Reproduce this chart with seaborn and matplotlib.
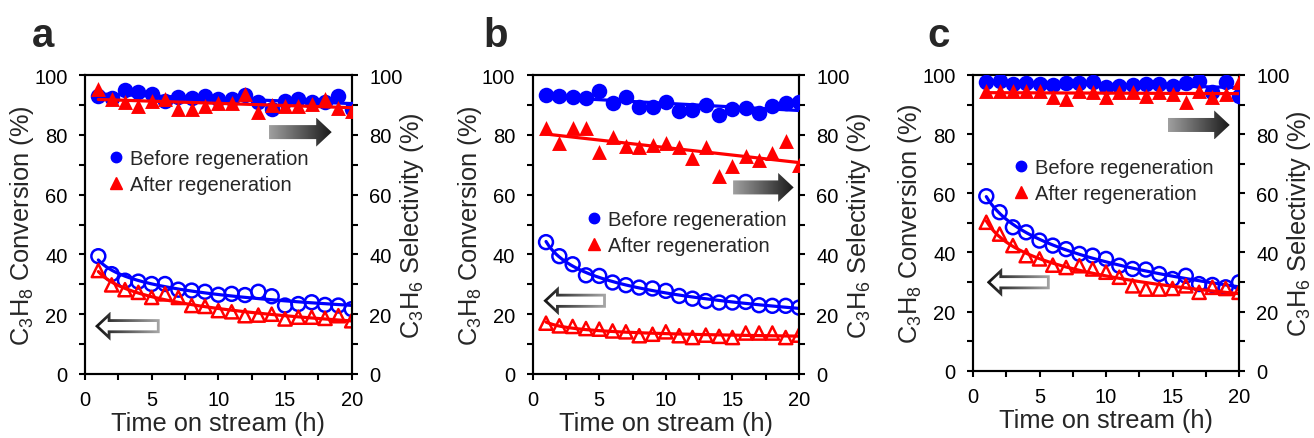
import numpy as np
import pandas as pd
import matplotlib
matplotlib.use("Agg")
import matplotlib.pyplot as plt
import seaborn as sns
from matplotlib.patches import Polygon
from matplotlib.lines import Line2D
from matplotlib.colors import LinearSegmentedColormap
from matplotlib.ticker import MultipleLocator

# ---------------- data ----------------
time_h = list(range(1, 21))

a_conv_before = [39.4, 33.4, 31.2, 30.9, 30.1, 30.1, 28.2, 27.9, 27.5, 26.5, 26.8, 26.4, 27.5, 26.0, 22.9, 23.4, 24.0, 23.1, 22.9, 21.7]
a_conv_after = [34.6, 29.8, 28.2, 27.3, 25.6, 26.8, 25.6, 22.9, 22.6, 21.2, 20.8, 19.5, 19.7, 20.0, 18.4, 19.0, 19.0, 18.6, 19.5, 17.8]
a_sel_before = [93.1, 92.2, 95.0, 94.2, 93.6, 91.4, 92.8, 92.2, 92.9, 92.0, 92.0, 93.4, 90.9, 88.6, 91.4, 92.0, 90.9, 90.9, 93.1, 88.6]
a_sel_after = [95.3, 92.0, 90.9, 89.7, 91.4, 92.0, 88.6, 88.6, 89.7, 90.6, 90.6, 93.6, 87.5, 89.9, 89.7, 89.7, 90.3, 92.0, 88.8, 88.0]

b_conv_before = [44.1, 39.4, 36.7, 33.0, 32.8, 30.6, 29.7, 28.9, 28.6, 27.8, 26.1, 25.2, 24.4, 23.9, 23.9, 24.1, 23.0, 22.8, 22.8, 22.2]
b_conv_after = [17.0, 16.1, 15.9, 15.2, 15.0, 14.4, 14.1, 12.8, 13.3, 14.1, 12.8, 12.2, 13.0, 12.6, 12.2, 13.7, 13.7, 13.7, 12.2, 13.0]
b_sel_before = [93.3, 93.0, 92.8, 92.2, 94.8, 90.8, 92.8, 89.2, 89.2, 91.1, 87.8, 88.3, 90.0, 86.7, 88.6, 88.9, 87.2, 89.7, 90.8, 91.1]
b_sel_after = [82.2, 77.2, 82.2, 82.2, 74.1, 79.2, 76.3, 75.9, 76.7, 77.4, 75.9, 72.2, 75.9, 66.3, 69.7, 72.8, 71.7, 73.9, 77.8, 70.0]

c_conv_before = [59.0, 53.6, 48.5, 46.8, 44.0, 42.3, 41.1, 39.5, 38.9, 37.8, 35.5, 34.4, 34.2, 32.7, 31.0, 32.1, 29.3, 29.0, 28.2, 29.9]
c_conv_after = [50.2, 46.2, 42.3, 38.9, 37.8, 35.7, 34.9, 35.5, 34.4, 33.3, 31.6, 28.7, 27.6, 27.6, 27.8, 28.7, 26.5, 28.2, 27.8, 26.5]
c_sel_before = [97.5, 98.1, 97.0, 97.3, 97.0, 96.6, 97.3, 97.3, 97.7, 95.8, 96.2, 96.6, 97.0, 97.0, 96.2, 97.3, 98.1, 94.1, 97.7, 92.8]
c_sel_after = [94.7, 94.7, 94.7, 94.7, 94.7, 92.4, 91.9, 94.7, 94.1, 92.4, 94.4, 94.1, 93.0, 94.1, 93.6, 90.8, 94.7, 92.4, 93.6, 97.5]

panel_letters = ["a", "b", "c"]
legend_labels = ["Before regeneration", "After regeneration"]
x_label = "Time on stream (h)"
y_left_label = r"C$_3$H$_8$ Conversion (%)"
y_right_label = r"C$_3$H$_6$ Selectivity (%)"

BLUE = "#0000FF"
RED = "#FF0000"

# ---------------- style ----------------
sns.set_theme(style="ticks")
plt.rcParams["font.family"] = ["Liberation Sans", "DejaVu Sans"]
plt.rcParams["mathtext.fontset"] = "custom"
plt.rcParams["mathtext.rm"] = "Liberation Sans"
plt.rcParams["mathtext.it"] = "Liberation Sans:italic"
plt.rcParams["mathtext.bf"] = "Liberation Sans:bold"
plt.rcParams["axes.linewidth"] = 1.5

fig = plt.figure(figsize=(13.14, 4.39), dpi=100)
W, H = 1314.0, 439.0

panels = [
    dict(letter="a", left=85.0, right=351.7, top=76.0, bottom=375.0,
         conv=(a_conv_before, a_conv_after), sel=(a_sel_before, a_sel_after),
         leg=(0.094, 0.752),
         rarrow=(13.8, 18.5, 80.9), larrow=(5.6, 0.75, 16.0),
         letter_x=31.7),
    dict(letter="b", left=532.7, right=799.0, top=76.0, bottom=375.0,
         conv=(b_conv_before, b_conv_after), sel=(b_sel_before, b_sel_after),
         leg=(0.209, 0.548),
         rarrow=(15.05, 19.6, 62.4), larrow=(5.5, 0.8, 24.5),
         letter_x=483.3),
    dict(letter="c", left=973.0, right=1239.0, top=76.0, bottom=371.7,
         conv=(c_conv_before, c_conv_after), sel=(c_sel_before, c_sel_after),
         leg=(0.158, 0.720),
         rarrow=(14.66, 19.3, 83.1), larrow=(5.77, 1.03, 29.9),
         letter_x=927.3),
]


def fit_line(t, y, kind):
    t = np.asarray(t, float)
    y = np.asarray(y, float)
    tt = np.linspace(t.min(), t.max(), 200)
    if kind == "lin":
        p = np.polyfit(t, y, 1)
        return tt, np.polyval(p, tt)
    p = np.polyfit(np.log(t), y, 2)
    return tt, np.polyval(p, np.log(tt))


def gradient_arrow(ax, tail, tip, yc, sx, sy, colors, hollow=False):
    # dimensions in pixels, converted to data units with sx (px/unit x), sy (px/unit y)
    hl, hh, bh = 15.5, 14.5, 7.0
    d = 1.0 if tip > tail else -1.0
    base = tip - d * hl / sx

    def verts(tl, bs, tp, hh_, bh_):
        return [(tl, yc - bh_), (bs, yc - bh_), (bs, yc - hh_), (tp, yc),
                (bs, yc + hh_), (bs, yc + bh_), (tl, yc + bh_)]

    outer = Polygon(verts(tail, base, tip, hh / sy, bh / sy), closed=True,
                    fc="none", ec="none", transform=ax.transData)
    ax.add_patch(outer)
    grad = np.linspace(0, 1, 256).reshape(1, -1)
    cmap = LinearSegmentedColormap.from_list("g", colors)
    x0, x1 = min(tail, tip), max(tail, tip)
    im = ax.imshow(grad, extent=[x0, x1, yc - hh / sy, yc + hh / sy], cmap=cmap,
                   aspect="auto", origin="lower", zorder=1, interpolation="bilinear")
    im.set_clip_path(outer)
    if hollow:
        t = 2.8
        tip_shift = 4.0
        tl_i = tail + d * t / sx
        bs_i = base + d * t / sx
        tp_i = tip - d * tip_shift / sx
        dist = hl - t - tip_shift
        hh_i = dist * hh / hl
        inner = Polygon(verts(tl_i, bs_i, tp_i, hh_i / sy, (bh - t) / sy), closed=True,
                        fc="white", ec="none", transform=ax.transData, zorder=1.5)
        ax.add_patch(inner)


for P in panels:
    axw = P["right"] - P["left"]
    axh = P["bottom"] - P["top"]
    ax = fig.add_axes([P["left"] / W, 1 - P["bottom"] / H, axw / W, axh / H])
    ax2 = ax.twinx()
    sx = axw / 20.0
    sy = axh / 100.0

    cb, ca = P["conv"]
    sb, sa = P["sel"]

    # conversion (open markers, left axis)
    sns.scatterplot(x=time_h, y=cb, ax=ax, marker="o", s=100, facecolor="none",
                    edgecolor=BLUE, linewidth=1.8, zorder=3)
    tt, ff = fit_line(time_h, cb, "log")
    sns.lineplot(x=tt, y=ff, ax=ax, color=BLUE, lw=2.3, zorder=4)
    sns.scatterplot(x=time_h, y=ca, ax=ax, marker="^", s=90, facecolor="none",
                    edgecolor=RED, linewidth=1.8, zorder=5)
    tt, ff = fit_line(time_h, ca, "log")
    sns.lineplot(x=tt, y=ff, ax=ax, color=RED, lw=2.3, zorder=6)

    # selectivity (filled markers, right axis)
    sns.scatterplot(x=time_h, y=sb, ax=ax2, marker="o", s=125, color=BLUE,
                    edgecolor=BLUE, linewidth=0, zorder=3)
    tt, ff = fit_line(time_h, sb, "lin")
    sns.lineplot(x=tt, y=ff, ax=ax2, color=BLUE, lw=2.3, zorder=4)
    sns.scatterplot(x=time_h, y=sa, ax=ax2, marker="^", s=115, color=RED,
                    edgecolor=RED, linewidth=0, zorder=5)
    tt, ff = fit_line(time_h, sa, "lin")
    sns.lineplot(x=tt, y=ff, ax=ax2, color=RED, lw=2.3, zorder=6)

    # arrows
    r_tail, r_tip, r_y = P["rarrow"]
    gradient_arrow(ax2, r_tail, r_tip, r_y, sx, sy, ["#a0a0a0", "#1a1a1a"], hollow=False)
    l_tail, l_tip, l_y = P["larrow"]
    gradient_arrow(ax2, l_tail, l_tip, l_y, sx, sy, ["#111111", "#a8a8a8"], hollow=True)

    for a_ in (ax, ax2):
        a_.set_xlim(0, 20)
        a_.set_ylim(0, 100)
        a_.yaxis.set_major_locator(MultipleLocator(20))
        a_.yaxis.set_minor_locator(MultipleLocator(10))
        a_.xaxis.set_major_locator(MultipleLocator(5))
        a_.xaxis.set_minor_locator(MultipleLocator(2.5))
        for sp in a_.spines.values():
            sp.set_linewidth(1.5)
            sp.set_color("black")

    ax.tick_params(axis="both", which="both", direction="out", length=4, width=1.5,
                   colors="black", labelsize=14.5, pad=8.5, top=False, right=False)
    ax.tick_params(axis="x", which="both", pad=7.5)
    ax2.tick_params(axis="y", which="both", direction="out", length=4, width=1.5,
                    colors="black", labelsize=14.5, pad=8.5, left=False, right=True)
    ax2.tick_params(axis="x", which="both", bottom=False, top=False)

    ax.set_xlabel(x_label, fontsize=18.3, va="center")
    ax.xaxis.set_label_coords(0.5, -49.0 / axh)
    ax.set_ylabel(y_left_label, fontsize=18.3, va="center")
    ax.yaxis.set_label_coords(-62.5 / axw, 0.5)
    ax2.set_ylabel(y_right_label, fontsize=18.3)
    ax2.yaxis.label.set_verticalalignment("center")
    ax2.yaxis.set_label_coords(1 + 60.0 / axw, 0.5)

    handles = [
        Line2D([], [], marker="o", ls="none", color=BLUE, markersize=7.5),
        Line2D([], [], marker="^", ls="none", color=RED, markersize=8),
    ]
    ax2.legend(handles, legend_labels, loc="upper left", bbox_to_anchor=P["leg"],
               frameon=False, fontsize=14.5, handlelength=0.6, handletextpad=0.4,
               borderpad=0, borderaxespad=0, labelspacing=0.36)

    fig.text(P["letter_x"] / W, 1 - 47 / H, P["letter"], fontsize=29,
             fontweight="bold", ha="left", va="baseline")

fig.savefig("out.png", dpi=100)
